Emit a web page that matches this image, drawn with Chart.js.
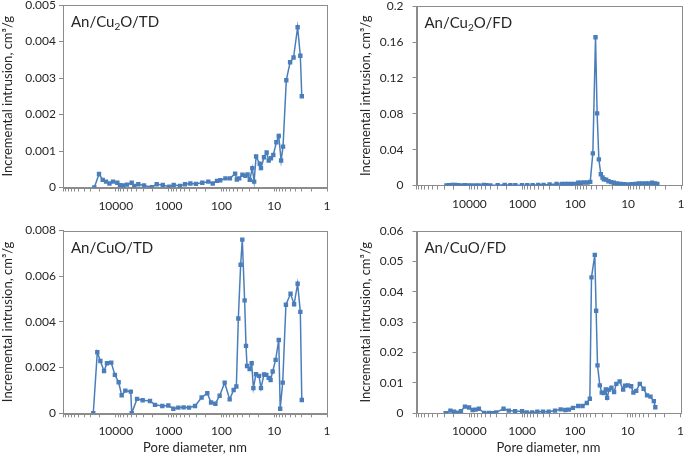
<!DOCTYPE html>
<html>
<head>
<meta charset="utf-8">
<script src="https://cdn.jsdelivr.net/npm/chart.js@4.4.0/dist/chart.umd.min.js"></script>
<style>
  body { margin: 0; width: 685px; height: 454px; overflow: hidden; background: #fff; position: relative; }
  .panel { position: absolute; }
</style>
</head>
<body>
<div class="panel" style="left:0;top:-10px;width:342px;height:230px"><canvas id="cu2oTd"></canvas></div>
<div class="panel" style="left:358px;top:-10px;width:332px;height:230px"><canvas id="cu2oFd"></canvas></div>
<div class="panel" style="left:0;top:215px;width:342px;height:239px"><canvas id="cuoTd"></canvas></div>
<div class="panel" style="left:358px;top:215px;width:332px;height:239px"><canvas id="cuoFd"></canvas></div>
<script>
// pore diameter (nm) and incremental intrusion (cm3/g)
const cu2oTdDiam = [25500, 20800, 17700, 15300, 13200, 11300, 9350, 8320, 7200, 6140, 5000, 4460, 3740, 2920, 2090, 1680, 1290, 968, 801, 608, 489, 387, 303, 230, 177, 146, 121, 105, 84, 69, 55, 51, 46, 40, 35, 32, 29, 26, 24, 22, 18.8, 17.8, 15.6, 13.9, 12.7, 11.5, 10.4, 9.1, 8.2, 7.4, 6.8, 5.9, 5.0, 4.3, 3.6, 3.2, 3.0];
const cu2oTdInc = [0, 0.00037, 0.00021, 0.00016, 0.00011, 0.00016, 0.00013, 0.00006, 0.000055, 0.00008, 0.00013, 0.00004, 0.00009, 0.000055, 0.00001, 0.00009, 0.00007, 0.00002, 0.00007, 0.000045, 0.00009, 0.00011, 0.0001, 0.00013, 0.00016, 0.00011, 0.00018, 0.0002, 0.00025, 0.00025, 0.00038, 0.00022, 0.00025, 0.00035, 0.00032, 0.00036, 0.00021, 0.00053, 0.00016, 0.00085, 0.00065, 0.00053, 0.00083, 0.00096, 0.00074, 0.0008, 0.00089, 0.00124, 0.00141, 0.00074, 0.00112, 0.00294, 0.00343, 0.00356, 0.00439, 0.00361, 0.0025];

const cu2oFdDiam = [27200, 24500, 21200, 18400, 16400, 14200, 12100, 10600, 9200, 7700, 6670, 5370, 4780, 4020, 2920, 2150, 1680, 1355, 1014, 805, 638, 499, 396, 305, 225, 179, 155, 136, 119, 104, 88, 79, 68, 58.5, 52, 46.4, 41.3, 38.5, 35.7, 32.8, 30.5, 28.8, 26, 23.5, 20.9, 18.6, 16.1, 13.7, 11.7, 9.9, 8.4, 7.3, 6.3, 5.4, 4.6, 4.1, 3.5, 3.1, 2.8];
const cu2oFdInc = [0.0002, 0.0004, 0.0007, 0.0007, 0.0004, 0.0002, 0.0004, 0.0002, 0.0002, 0.0002, 0.0002, 0.0007, 0.0004, 0.0002, 0.0004, 0.0007, 0.0004, 0.0004, 0.0004, 0.0004, 0.0004, 0.0007, 0.0007, 0.0011, 0.0018, 0.0018, 0.0018, 0.0018, 0.0018, 0.0018, 0.003, 0.003, 0.0033, 0.0033, 0.004, 0.0358, 0.1653, 0.0804, 0.0292, 0.0125, 0.0089, 0.007, 0.0066, 0.0048, 0.0037, 0.003, 0.0022, 0.0018, 0.0015, 0.0011, 0.0015, 0.0018, 0.0022, 0.0022, 0.0022, 0.0022, 0.003, 0.0022, 0.0018];

const cuoTdDiam = [26700, 22400, 19600, 16700, 14700, 12200, 10400, 8830, 7740, 6600, 5200, 5000, 3960, 3100, 2250, 1810, 1315, 1012, 813, 655, 519, 411, 316, 237, 185, 157, 130, 108, 86.7, 69.7, 58.6, 52.1, 47.8, 43.2, 40.2, 36.3, 34.2, 32.7, 29.2, 26.7, 24.8, 22.1, 19.4, 17.8, 15.6, 14.1, 12.7, 11.7, 10.7, 9.4, 8.2, 7.7, 6.9, 6.0, 4.9, 4.2, 3.6, 3.2, 3.0];
const cuoTdInc = [0, 0.00267, 0.00229, 0.00185, 0.00219, 0.00222, 0.00168, 0.00136, 0.00079, 0.00099, 0.00095, 0, 0.00063, 0.00057, 0.00054, 0.00037, 0.00032, 0.00034, 0.0002, 0.00025, 0.00026, 0.00025, 0.00032, 0.00069, 0.00088, 0.00047, 0.00042, 0.00077, 0.00134, 0.00061, 0.00102, 0.00117, 0.00415, 0.0065, 0.0076, 0.00494, 0.00295, 0.00207, 0.00194, 0.00219, 0.0011, 0.00171, 0.00164, 0.0011, 0.0017, 0.00168, 0.00155, 0.00146, 0.00183, 0.00234, 0.00321, 0.0002, 0.00134, 0.00475, 0.00523, 0.00477, 0.00567, 0.00444, 0.00058];

const cuoFdDiam = [28000, 22800, 19500, 16800, 14400, 12100, 10100, 8650, 7600, 6580, 5220, 4260, 3740, 3100, 2250, 1790, 1360, 1000, 817, 648, 514, 402, 314, 238, 186, 152, 130, 109, 86.5, 71.6, 59.4, 52.1, 48.5, 42.0, 39.6, 37.3, 33.7, 31.0, 28.4, 26.0, 24.5, 22.5, 20.3, 18.1, 16.4, 14.2, 12.2, 11.2, 9.9, 8.6, 7.8, 6.9, 5.9, 5.0, 4.3, 3.7, 3.2, 3.0];
const cuoFdInc = [0, 0.0009, 0.0005, 0.0002, 0.0007, 0.0022, 0.0019, 0.0011, 0.0012, 0.0015, 0.0001, 0.0001, 0, 0.0003, 0.0015, 0.0009, 0.0007, 0.0007, 0.0003, 0.0003, 0.0005, 0.0005, 0.0005, 0.0009, 0.0013, 0.0011, 0.0012, 0.0018, 0.0024, 0.0024, 0.0034, 0.0048, 0.0448, 0.0522, 0.0338, 0.0158, 0.0092, 0.0068, 0.0067, 0.0079, 0.0051, 0.0078, 0.0084, 0.007, 0.0097, 0.0105, 0.0078, 0.0091, 0.0092, 0.0089, 0.0068, 0.0074, 0.0097, 0.0081, 0.0059, 0.0055, 0.004, 0.002];

// tick labels
const xMajorTicks = [10000, 1000, 100, 10, 1];
const xTickLabels = ['10000', '1000', '100', '10', '1'];
const yTicksCu2oTd = [0, 0.001, 0.002, 0.003, 0.004, 0.005];
const yLabelsCu2oTd = ['0', '0.001', '0.002', '0.003', '0.004', '0.005'];
const yTicksCu2oFd = [0, 0.04, 0.08, 0.12, 0.16, 0.2];
const yLabelsCu2oFd = ['0', '0.04', '0.08', '0.12', '0.16', '0.2'];
const yTicksCuoTd = [0, 0.002, 0.004, 0.006, 0.008];
const yLabelsCuoTd = ['0', '0.002', '0.004', '0.006', '0.008'];
const yTicksCuoFd = [0, 0.01, 0.02, 0.03, 0.04, 0.05, 0.06];
const yLabelsCuoFd = ['0', '0.01', '0.02', '0.03', '0.04', '0.05', '0.06'];

const blue = '#4a7ebb';
const axisGrey = '#8c8c8c';
const textCol = '#262626';
const fontFam = 'Lato, "Open Sans", sans-serif';

// all log ticks 1..9 per decade between 1 and 100000
const logTicks = [];
for (let e = 0; e < 5; e++) {
    for (let s = 1; s < 10; s++) logTicks.push(s * Math.pow(10, e));
}
logTicks.push(100000);

const frameBox = {
    id: 'frameBox',
    beforeDatasetsDraw(chart) {
        const a = chart.chartArea, ctx = chart.ctx;
        ctx.save();
        ctx.strokeStyle = axisGrey;
        ctx.lineWidth = 1;
        ctx.strokeRect(Math.round(a.left) + 0.5, Math.round(a.top) + 0.5, Math.round(a.right - a.left), Math.round(a.bottom - a.top));
        ctx.restore();
    }
};

const panelLabel = {
    id: 'panelLabel',
    afterDraw(chart, args, opts) {
        const a = chart.chartArea, ctx = chart.ctx;
        let x = a.left + 8;
        const y = a.top + 22;
        ctx.save();
        ctx.fillStyle = textCol;
        ctx.textBaseline = 'alphabetic';
        opts.parts.forEach(p => {
            ctx.font = (p.sub ? '10px ' : '15px ') + fontFam;
            ctx.fillText(p.text, x, p.sub ? y + 3 : y);
            x += ctx.measureText(p.text).width;
        });
        ctx.restore();
    }
};

function makePanel(id, diam, inc, yTicks, yLabels, labelParts, geo) {
    const pts = diam.map((d, i) => ({ x: d, y: inc[i] }));
    new Chart(document.getElementById(id), {
        type: 'line',
        data: {
            datasets: [{
                data: pts,
                borderColor: blue,
                backgroundColor: blue,
                borderWidth: 1.5,
                pointStyle: 'rect',
                pointRadius: 3.1,
                pointBorderWidth: 0,
                pointBackgroundColor: blue,
                tension: 0
            }]
        },
        options: {
            responsive: true,
            maintainAspectRatio: false,
            animation: false,
            layout: { padding: { left: 0, top: geo.top, right: geo.right, bottom: 0 } },
            plugins: {
                legend: { display: false },
                tooltip: { enabled: false },
                panelLabel: { parts: labelParts }
            },
            scales: {
                x: {
                    type: 'logarithmic',
                    reverse: true,
                    min: 1,
                    max: 100000,
                    afterBuildTicks: s => { s.ticks = logTicks.map(v => ({ value: v })); },
                    afterFit: s => { s.height = geo.xh; },
                    ticks: {
                        autoSkip: false,
                        maxRotation: 0,
                        padding: 7,
                        color: textCol,
                        font: { family: fontFam, size: 12 },
                        callback: v => {
                            const i = xMajorTicks.indexOf(v);
                            return i >= 0 ? xTickLabels[i] : '';
                        }
                    },
                    grid: { display: true, drawOnChartArea: false, drawTicks: true, tickLength: 4, color: axisGrey },
                    border: { display: true, color: axisGrey },
                    title: {
                        display: geo.xTitle,
                        text: 'Pore diameter, nm',
                        color: textCol,
                        font: { family: fontFam, size: 13, lineHeight: 1.0 },
                        padding: 0
                    }
                },
                y: {
                    min: 0,
                    max: yTicks[yTicks.length - 1],
                    afterBuildTicks: s => { s.ticks = yTicks.map(v => ({ value: v })); },
                    afterFit: s => { s.width = geo.yw; },
                    ticks: {
                        padding: geo.ypad,
                        color: textCol,
                        font: { family: fontFam, size: 12 },
                        callback: (v, i) => yLabels[i]
                    },
                    grid: { display: true, drawOnChartArea: false, drawTicks: true, tickLength: 4, color: axisGrey },
                    border: { display: true, color: axisGrey },
                    title: {
                        display: true,
                        text: 'Incremental intrusion, cm³/g',
                        color: textCol,
                        font: { family: fontFam, size: 13 },
                        padding: 0
                    }
                }
            }
        },
        plugins: [frameBox, panelLabel]
    });
}

makePanel('cu2oTd', cu2oTdDiam, cu2oTdInc, yTicksCu2oTd, yLabelsCu2oTd,
    [{ text: 'An/Cu' }, { text: '2', sub: true }, { text: 'O/TD' }],
    { top: 15, right: 15, yw: 63, xh: 32.5, ypad: 3, xTitle: false });
makePanel('cu2oFd', cu2oFdDiam, cu2oFdInc, yTicksCu2oFd, yLabelsCu2oFd,
    [{ text: 'An/Cu' }, { text: '2', sub: true }, { text: 'O/FD' }],
    { top: 15, right: 9, yw: 58.5, xh: 34.5, ypad: 9, xTitle: false });
makePanel('cuoTd', cuoTdDiam, cuoTdInc, yTicksCuoTd, yLabelsCuoTd,
    [{ text: 'An/CuO/TD' }],
    { top: 15.5, right: 15, yw: 63, xh: 40.7, ypad: 3, xTitle: true });
makePanel('cuoFd', cuoFdDiam, cuoFdInc, yTicksCuoFd, yLabelsCuoFd,
    [{ text: 'An/CuO/FD' }],
    { top: 16, right: 9.5, yw: 58.5, xh: 40.7, ypad: 9, xTitle: true });
</script>
</body>
</html>
